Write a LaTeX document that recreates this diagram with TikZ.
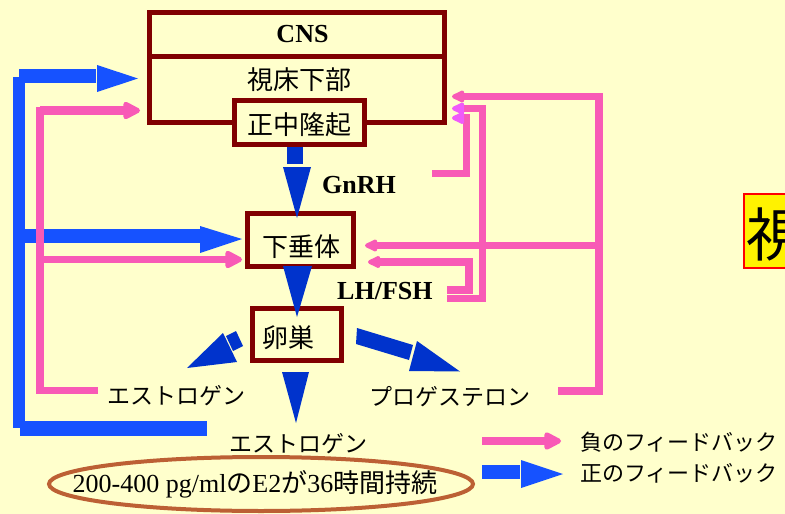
\documentclass[tikz,border=0pt]{standalone}
\usepackage{fontspec}
\setmainfont{Liberation Serif}
\newfontfamily\jp{Noto Sans CJK JP}
\usetikzlibrary{arrows.meta,calc,shapes.geometric}
\definecolor{bgc}{RGB}{255,255,204}
\definecolor{boxred}{RGB}{128,0,0}
\definecolor{darkblue}{RGB}{0,51,204}
\definecolor{fbblue}{RGB}{22,82,255}
\definecolor{fbpink}{RGB}{248,90,182}
\definecolor{fbmag}{RGB}{240,90,250}
\definecolor{ellc}{RGB}{188,96,52}
\begin{document}
\begin{tikzpicture}[x=1pt,y=-1pt,
  organ/.style={draw=boxred, line width=5pt, fill=bgc, inner sep=0pt},
  jptext/.style={font=\jp\fontsize{26}{30}\selectfont, inner sep=0pt},
  labtext/.style={font=\jp\fontsize{23}{27}\selectfont, inner sep=0pt},
  legtext/.style={font=\jp\fontsize{22}{26}\selectfont, inner sep=0pt, anchor=west},
  hormone/.style={font=\bfseries\fontsize{26}{30}\selectfont, inner sep=0pt, anchor=base west},
  posfb/.style={draw=fbblue},
  negfb/.style={draw=fbpink, line width=7.5pt, line join=miter},
  pinktip/.style={-{Triangle[length=20pt,width=19pt,round]}},
  smalltip/.style={-{Triangle[length=15pt,width=13pt,round]}},
  magtip/.style={-{Triangle[length=15pt,width=13pt,round,color=fbmag]}},
]
\useasboundingbox (0,0) rectangle (785,514);
\fill[bgc] (0,0) rectangle (785,514);
\clip (0,0) rectangle (785,514);

% boxes
\node[organ, minimum width=295pt, minimum height=43.5pt] (cns) at (297,34.25) {};
\node[font=\bfseries\fontsize{26}{30}\selectfont, inner sep=0pt, anchor=base] (cnstext) at (302.5,42.5) {CNS};
\node[organ, minimum width=295pt, minimum height=66pt] (hyp) at (297,89) {};
\node[jptext] (hyptext) at (299.5,80) {視床下部};
\node[organ, minimum width=130pt, minimum height=44pt] (me) at (299.5,122.5) {};
\node[jptext] (metext) at (299.5,125) {正中隆起};
\node[organ, minimum width=106pt, minimum height=53pt] (pit) at (300.5,240) {};
\node[jptext] (pittext) at (301,246.5) {下垂体};
\node[organ, minimum width=89pt, minimum height=52pt] (ov) at (297,334.5) {};
\node[jptext] (ovtext) at (288,338) {卵巣};

% hormone labels
\node[hormone] (gnrh) at (322,193) {GnRH};
\node[hormone] (lhfsh) at (337,299) {LH/FSH};
\node[labtext] (estL) at (176.5,396) {エストロゲン};
\node[labtext] (estB) at (298.5,443.5) {エストロゲン};
\node[labtext] (prog) at (449.5,397) {プロゲステロン};

% main axis arrows
\fill[darkblue] (286.5,147) rectangle (303,164);
\fill[darkblue] (283,167) -- (311,167) -- (297,218) -- cycle;
\fill[darkblue] (283,266) -- (312,266) -- (297,317) -- cycle;
\fill[darkblue] (282,372) -- (309,372) -- (296,423) -- cycle;
% ovary to estrogen (left)
\fill[darkblue] (226,336) -- (236,331) -- (243,346) -- (233,351) -- cycle;
\fill[darkblue] (223,333) -- (237,362) -- (187,368) -- cycle;
% ovary to progesterone (right)
\fill[darkblue] (357,328) -- (413,345) -- (409,360) -- (356,344) -- cycle;
\fill[darkblue] (417,341) -- (409,371) -- (460,371.5) -- cycle;

% positive feedback (left, blue)
\coordinate (pbot) at (207,428.5);
\draw[posfb, line width=12pt] (19,77) -- (19,428);
\draw[posfb, line width=15pt] (20,428.5) -- (pbot);
\draw[posfb, line width=14pt] (19,76) -- (96,76);
\fill[fbblue] (97,65) -- (97,92) -- (138,78.5) -- cycle;
\draw[posfb, line width=14pt] (25,236) -- (200,236);
\fill[fbblue] (200,226) -- (200,253) -- (242,239) -- cycle;

% negative feedback (left, pink)
\draw[negfb] (39.75,107) -- (39.75,393.5);
\draw[negfb, line width=9pt, pinktip] (40,110.5) -- (140,110.5);
\draw[negfb, line width=7pt, pinktip] (43,259.5) -- (242,259.5);
\draw[negfb, line width=7pt] (36,390.5) -- (98,390.5);

% negative feedback (right, pink)
\draw[negfb, smalltip] (558,391) -- (599,391) -- (599,96.5) -- (452,96.5);
\draw[negfb, smalltip] (599,245.5) -- (365,245.5);
\draw[negfb, magtip] (447,298.5) -- (482.5,298.5) -- (482.5,108.5) -- (452,108.5);
\draw[negfb, magtip] (432,173.5) -- (466.5,173.5) -- (466.5,118) -- (452,118);
\draw[negfb, smalltip] (447,290) -- (469,290) -- (469,262) -- (368,262);

% ellipse
\node[draw=ellc, line width=4pt, ellipse, minimum width=424pt, minimum height=54pt, inner sep=0pt] (e2) at (261,484) {};
\node[font=\fontsize{26}{30}\selectfont, inner sep=0pt, anchor=base] (e2text) at (255,492) {200-400 pg/ml{\jp の}E2{\jp が}36{\jp 時間持続}};

% legend
\draw[negfb, line width=8pt, pinktip] (482,441) -- (561,441);
\draw[posfb, line width=14pt] (482,472) -- (520,472);
\fill[fbblue] (521,460) -- (521,488) -- (563,474) -- cycle;
\node[legtext] (lgneg) at (580,442.5) {負のフィードバック};
\node[legtext] (lgpos) at (580,473) {正のフィードバック};

% title box at right edge
\node[draw=red, line width=1.5pt, fill=yellow, anchor=north west, minimum width=80pt, minimum height=74pt, inner sep=0pt] (titlebox) at (743,193) {};
\node[font=\jp\fontsize{58}{60}\selectfont, inner sep=0pt, anchor=west] (titletext) at (746,234.5) {視};
\end{tikzpicture}
\end{document}
